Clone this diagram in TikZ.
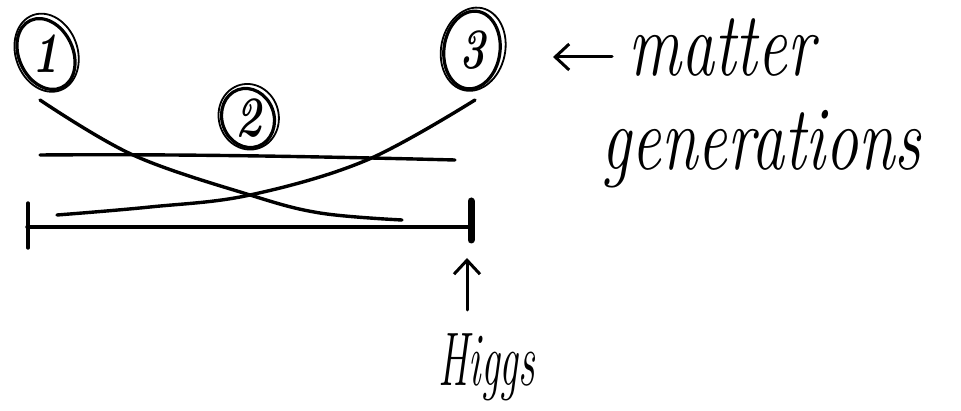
\documentclass[tikz,border=0pt]{standalone}
\usetikzlibrary{arrows.meta,calc}
\begin{document}
\begin{tikzpicture}[x=1pt,y=-1pt, line width=3.4pt, line cap=round, line join=round,
  hand/.style={inner sep=0pt, anchor=base west},
  num/.style={inner sep=0pt},
  ring/.style={line width=3.2pt},
  barb/.style={-{Straight Barb[length=14pt,width=26pt,line width=3pt]}, line width=3pt}]
\useasboundingbox (0,0) rectangle (961,411);
\newcommand{\bigtext}[1]{\fontsize{66}{66}\selectfont\itshape\scalebox{1}[1.38]{#1}}
\newcommand{\numtext}[1]{\fontsize{44}{44}\selectfont\itshape\bfseries\scalebox{1}[1.3]{#1}}

% circled numbers
\node[num] (n1) at (46,54) {\numtext{1}};
\draw[ring, rotate around={25:(n1)}] (n1) ellipse [x radius=27, y radius=37];
\draw[ring, line width=1.8pt, rotate around={20:(n1)}] ($(n1)+(1,-1)$) ellipse [x radius=31, y radius=40];

\node[num] (n2) at (248,118) {\numtext{2}};
\draw[ring, rotate around={20:(n2)}] (n2) ellipse [x radius=26, y radius=30];
\draw[ring, line width=1.8pt, rotate around={15:(n2)}] ($(n2)+(1,-1)$) ellipse [x radius=30, y radius=33];

\node[num] (n3) at (472,50) {\numtext{3}};
\draw[ring, rotate around={-8:(n3)}] (n3) ellipse [x radius=28, y radius=39];
\draw[ring, line width=1.8pt, rotate around={-12:(n3)}] ($(n3)+(1,-1)$) ellipse [x radius=32, y radius=42];

% generation lines
\coordinate (g2a) at (40,155);
\coordinate (g2b) at (455,160);
\draw (g2a) .. controls (160,154) and (300,156) .. (g2b);

\coordinate (g1a) at (40,100);
\coordinate (g1b) at (402,220);
\draw plot[smooth, tension=0.6] coordinates {(g1a) (133,155) (250,195) (320,213) (g1b)};

\coordinate (g3a) at (475,100);
\coordinate (g3b) at (57,215);
\draw plot[smooth, tension=0.6] coordinates {(g3a) (367,160) (250,195) (150,207) (g3b)};

% Higgs line
\coordinate (hl) at (27,227);
\coordinate (hr) at (468,227);
\draw (hl) -- (hr);
\draw (28,203) -- (28,248);
\draw[line width=7pt] (471,201) -- (471,240);

% annotations
\coordinate (ma) at (612,57);
\coordinate (mb) at (553,57);
\draw[barb] (ma) -- (mb);
\node[hand] (matter) at (627,76) {\bigtext{matter}};
\node[hand] (gen) at (600,170) {\bigtext{generations}};

\coordinate (ha) at (467,310);
\coordinate (hb) at (467,258);
\draw[barb] (ha) -- (hb);
\node[hand] (higgs) at (437,385) {\fontsize{46}{46}\selectfont\itshape\scalebox{0.9}[1.65]{Higgs}};
\end{tikzpicture}
\end{document}
